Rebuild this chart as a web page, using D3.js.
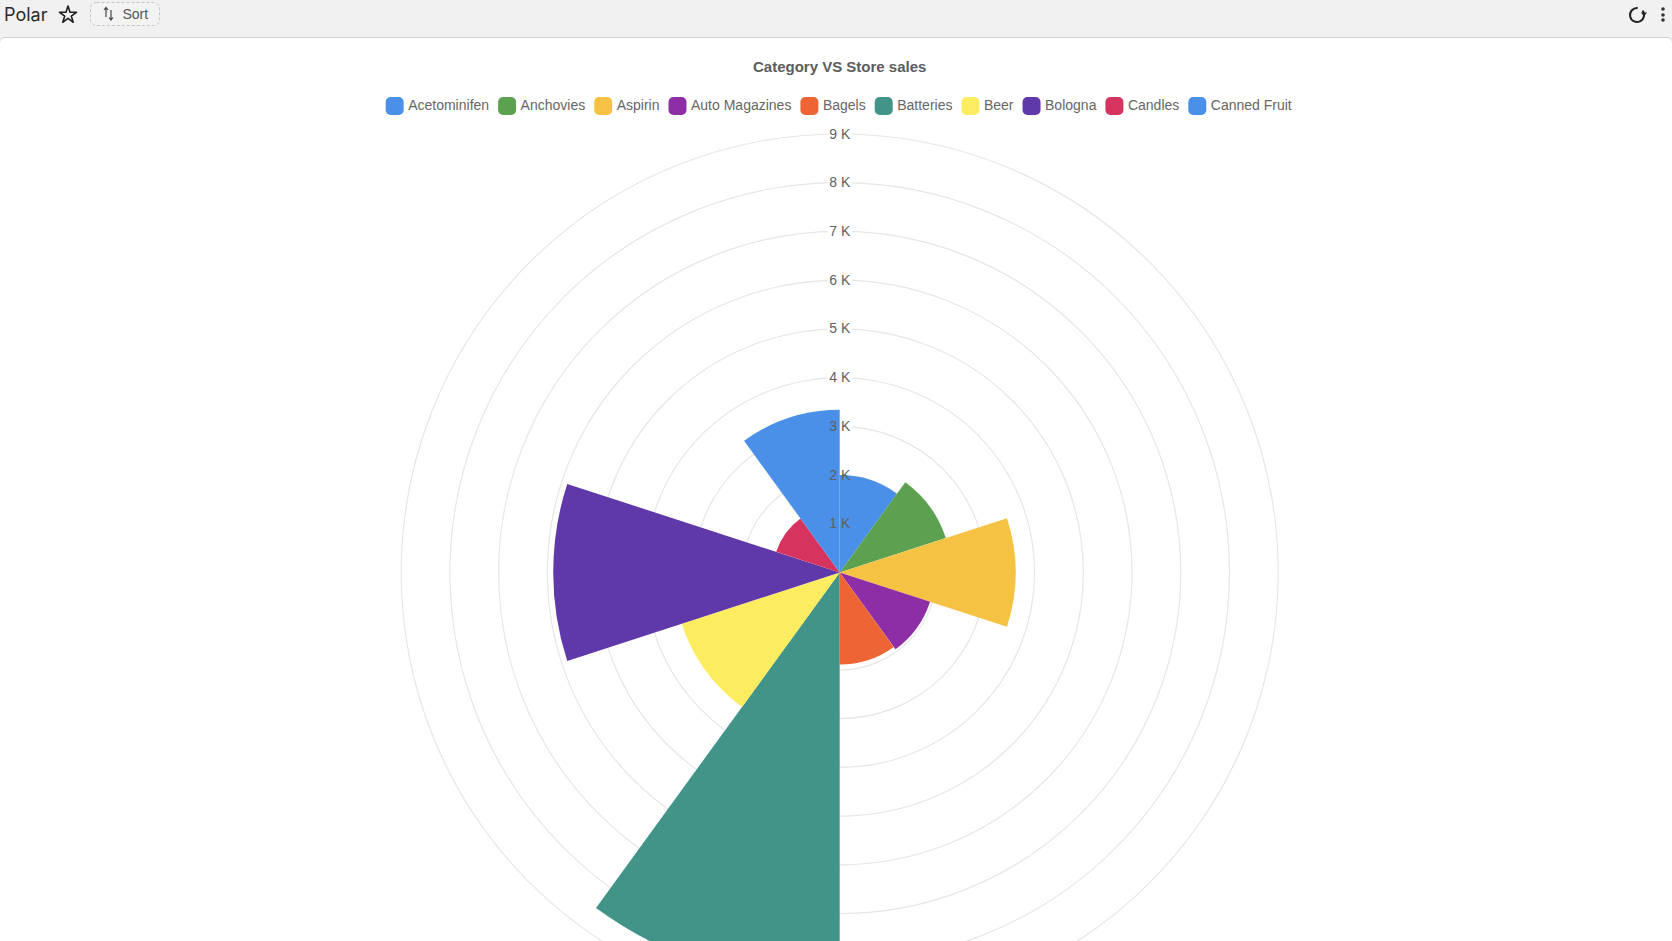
<!DOCTYPE html>
<html>
<head>
<meta charset="utf-8">
<script src="https://cdn.jsdelivr.net/npm/d3@7"></script>
<style>
    html, body { margin: 0; padding: 0; background: #fff; overflow: hidden; }
    svg { display: block; font-family: "Liberation Sans", Arial, sans-serif; }
</style>
</head>
<body>
<div id="chart"></div>
<script>
// Polar area chart - Category VS Store sales
const categories = ['Acetominifen', 'Anchovies', 'Aspirin', 'Auto Magazines', 'Bagels', 'Batteries', 'Beer', 'Bologna', 'Candles', 'Canned Fruit'];
const sales = [2000, 2290, 3610, 1950, 1890, 8510, 3410, 5880, 1370, 3340];
const colors = ['#4a90e8', '#5ca14f', '#f5c244', '#8e2ea6', '#ee6535', '#429488', '#fcec60', '#5f38a9', '#d6335f', '#4a90e8'];
const tickValues = [1000, 2000, 3000, 4000, 5000, 6000, 7000, 8000, 9000];

const width = 1672;
const height = 941;
const cx = 839.7;
const cy = 572.5;

const svg = d3.select('#chart')
    .append('svg')
    .attr('width', width)
    .attr('height', height);

// Header band, the white panel below it has rounded corners
svg.append('rect').attr('width', width).attr('height', 46).attr('fill', '#f1f1f1');
svg.append('rect').attr('y', 37).attr('width', width).attr('height', 12).attr('rx', 5).attr('fill', '#d2d2d2');
svg.append('rect').attr('y', 38).attr('width', width).attr('height', height - 38).attr('rx', 5).attr('fill', '#fff');

svg.append('text')
    .attr('x', 4).attr('y', 21)
    .attr('font-family', 'Inter, sans-serif')
    .attr('font-size', '18px')
    .attr('fill', '#2b2b2b')
    .text('Polar');

svg.append('path')
    .attr('d', d3.symbol(d3.symbolStar, 90)())
    .attr('transform', 'translate(68,15)')
    .attr('fill', 'none')
    .attr('stroke', '#222')
    .attr('stroke-width', 1.6)
    .attr('stroke-linejoin', 'round');

// Sort button
svg.append('rect')
    .attr('x', 90.5).attr('y', 2.5)
    .attr('width', 69).attr('height', 23)
    .attr('rx', 6)
    .attr('fill', '#f3f3f3')
    .attr('stroke', '#c4c4c4')
    .attr('stroke-dasharray', '3 2');
svg.append('path')
    .attr('d', 'M106 17V8M104 10l2-2.500 2 2.500M111 10v10M109 17.500l2 2.500 2-2.500')
    .attr('fill', 'none')
    .attr('stroke', '#444')
    .attr('stroke-width', 1.2);
svg.append('text')
    .attr('x', 122.500).attr('y', 19)
    .attr('font-size', '14px')
    .attr('fill', '#555')
    .text('Sort');

// Refresh and menu icons
svg.append('path')
    .attr('d', d3.arc().innerRadius(6).outerRadius(8).startAngle(0.9).endAngle(2 * Math.PI + 0.1)())
    .attr('transform', 'translate(1637,15)')
    .attr('fill', '#222');
svg.append('path')
    .attr('d', 'M1641 12.500h6l-3 4z')
    .attr('fill', '#222');
svg.selectAll('.menu-dot')
    .data([9, 15, 20])
    .enter()
    .append('circle')
    .attr('class', 'menu-dot')
    .attr('cx', 1663)
    .attr('cy', d => d)
    .attr('r', 1.8)
    .attr('fill', '#333');

// Title
svg.append('text')
    .attr('x', cx).attr('y', 71.5)
    .attr('text-anchor', 'middle')
    .attr('font-size', '15px')
    .attr('font-weight', 'bold')
    .attr('fill', '#5c5c5c')
    .text('Category VS Store sales');

// Legend
const legend = svg.append('g');
let legendX = 0;
categories.forEach((name, i) => {
    const item = legend.append('g').attr('transform', `translate(${legendX},0)`);
    item.append('rect')
        .attr('y', 97)
        .attr('width', 18).attr('height', 18)
        .attr('rx', 5)
        .attr('fill', colors[i]);
    const label = item.append('text')
        .attr('x', 22.5).attr('y', 110)
        .attr('font-size', '14px')
        .attr('fill', '#666')
        .text(name);
    legendX += 22.5 + label.node().getComputedTextLength() + 9;
});
legend.attr('transform', `translate(${cx - (legendX - 9) / 2 - 1},0)`);

// Radial scale
const radius = d3.scaleLinear().domain([0, 9000]).range([0, 438.5]);

const chart = svg.append('g').attr('transform', `translate(${cx},${cy})`);

chart.selectAll('.ring')
    .data(tickValues)
    .enter()
    .append('circle')
    .attr('class', 'ring')
    .attr('r', d => radius(d))
    .attr('fill', 'none')
    .attr('stroke', '#e6e6e6')
    .attr('stroke-width', 1.2);

// Gaps in the rings behind the tick labels
chart.selectAll('.tick-gap')
    .data(tickValues)
    .enter()
    .append('rect')
    .attr('class', 'tick-gap')
    .attr('x', -12)
    .attr('y', d => -radius(d) - 5)
    .attr('width', 24)
    .attr('height', 10)
    .attr('fill', '#fff');

const sliceAngle = d3.scaleLinear().domain([0, categories.length]).range([0, 2 * Math.PI]);
const arc = d3.arc().innerRadius(0);

chart.selectAll('.slice')
    .data(sales)
    .enter()
    .append('path')
    .attr('class', 'slice')
    .attr('d', (d, i) => arc({
        outerRadius: radius(d),
        startAngle: sliceAngle(i),
        endAngle: sliceAngle(i + 1)
    }))
    .attr('fill', (d, i) => colors[i]);

chart.selectAll('.tick-label')
    .data(tickValues)
    .enter()
    .append('text')
    .attr('class', 'tick-label')
    .attr('y', d => -radius(d) + 4.5)
    .attr('text-anchor', 'middle')
    .attr('font-size', '14px')
    .attr('fill', '#5f5f5f')
    .text(d => `${d / 1000} K`);
</script>
</body>
</html>
